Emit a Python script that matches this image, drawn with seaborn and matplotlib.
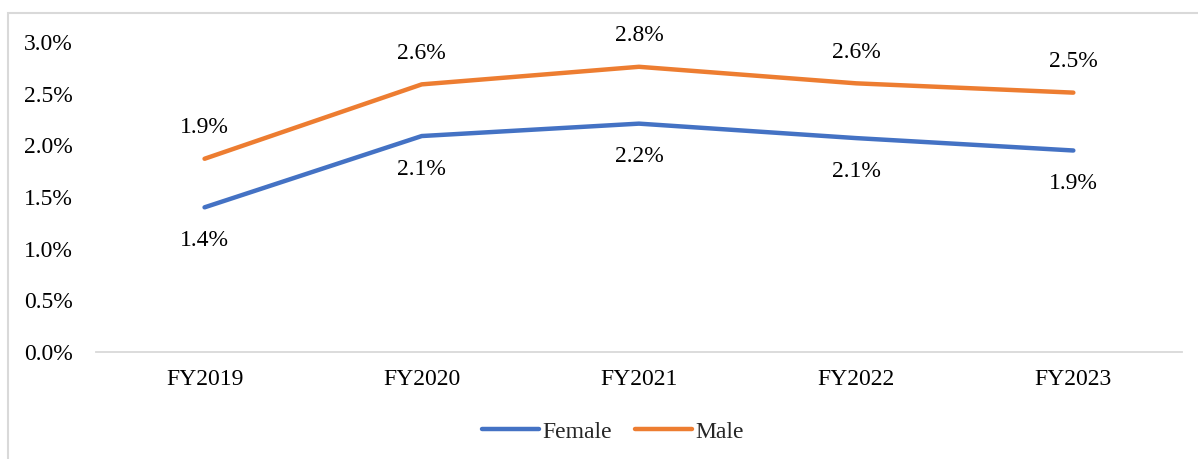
import matplotlib
matplotlib.use("Agg")
import matplotlib.pyplot as plt
from matplotlib.patches import Rectangle
from matplotlib.ticker import FuncFormatter
import seaborn as sns
import pandas as pd

years = ["FY2019", "FY2020", "FY2021", "FY2022", "FY2023"]
female = [1.40, 2.09, 2.21, 2.07, 1.95]
male = [1.87, 2.59, 2.76, 2.60, 2.51]

df = pd.DataFrame({
    "year": years * 2,
    "rate": female + male,
    "sex": ["Female"] * len(years) + ["Male"] * len(years),
})

sns.set_theme(style="white")
plt.rcParams["font.family"] = ["Liberation Serif", "DejaVu Serif"]
plt.rcParams["lines.solid_capstyle"] = "round"
plt.rcParams["lines.solid_joinstyle"] = "round"

palette = {"Female": "#4472C4", "Male": "#ED7D31"}
FS = 17

fig = plt.figure(figsize=(11.98, 4.59), dpi=100)
ax = fig.add_axes([0.0801, 0.2331, 0.9065, 0.6754])

sns.lineplot(data=df, x="year", y="rate", hue="sex", palette=palette,
             linewidth=3.2, ax=ax, sort=False, legend=True)

ax.set_xlim(-0.5, len(years) - 0.5)
ax.set_ylim(0, 3.0)
ax.set_yticks([0, 0.5, 1.0, 1.5, 2.0, 2.5, 3.0])
ax.yaxis.set_major_formatter(FuncFormatter(lambda v, p: f"{v:.1f}%"))
ax.set_xlabel("")
ax.set_ylabel("")

for s in ["top", "right", "left"]:
    ax.spines[s].set_visible(False)
ax.spines["bottom"].set_color("#D9D9D9")
ax.spines["bottom"].set_linewidth(1.3)
ax.tick_params(axis="both", length=0, labelsize=FS, colors="black")
ax.tick_params(axis="y", pad=16.5)
ax.tick_params(axis="x", pad=12)

# value labels: female below the line, male above
for i, v in enumerate(female):
    ax.annotate(f"{v:.1f}%", (i, v), xytext=(0, -24), textcoords="offset points",
                ha="center", va="center", fontsize=FS, color="black")
for i, v in enumerate(male):
    ax.annotate(f"{v:.1f}%", (i, v), xytext=(0, 22.5), textcoords="offset points",
                ha="center", va="center", fontsize=FS, color="black")

handles, labels = ax.get_legend_handles_labels()
ax.legend(handles, labels, loc="center", bbox_to_anchor=(613 / 1198, 1 - 432 / 459),
          bbox_transform=fig.transFigure, ncol=2, frameon=False, fontsize=FS,
          handlelength=2.4, handletextpad=0.15, columnspacing=1.0)

# outer chart frame
fig.patches.append(Rectangle((8 / 1198, -0.2), 1.3, 1.2 - 13 / 459,
                             transform=fig.transFigure, fill=False,
                             edgecolor="#D9D9D9", linewidth=1.5))

fig.savefig("out.png", dpi=100, facecolor="white")
